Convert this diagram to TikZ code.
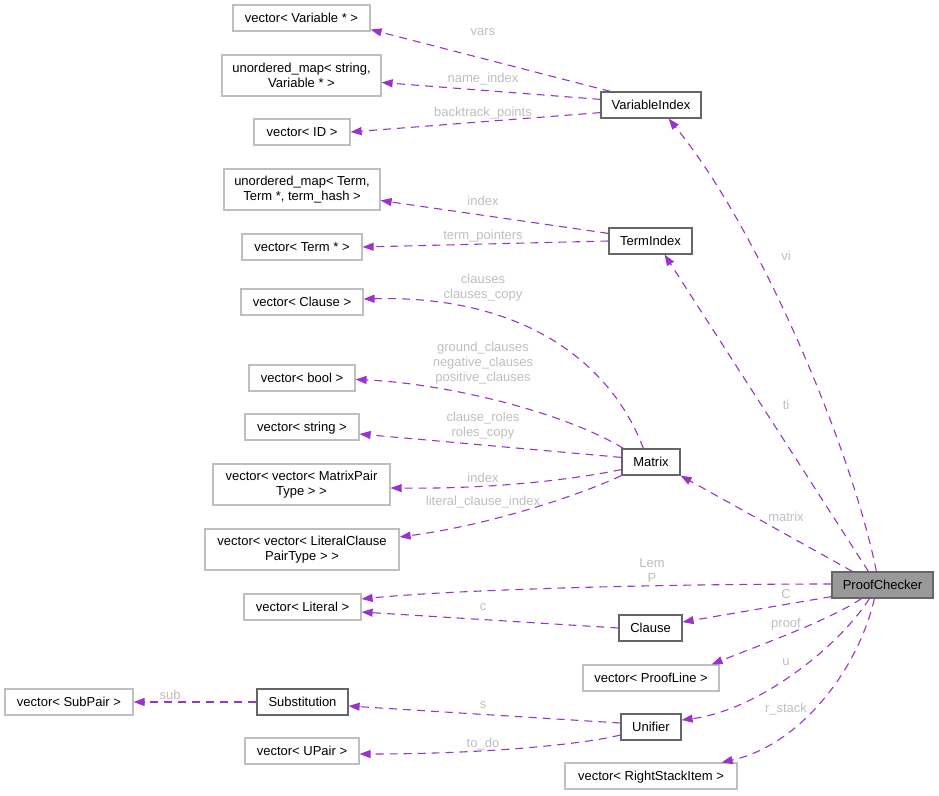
\documentclass[tikz,border=0pt]{standalone}
\usepackage{fontspec}
\setmainfont{Liberation Sans}
\usetikzlibrary{arrows.meta}
\definecolor{usecol}{HTML}{9A32CD}
\definecolor{lblgrey}{HTML}{BEBEBE}
\definecolor{klassgrey}{HTML}{666666}
\definecolor{tmplgrey}{HTML}{BFBFBF}
\definecolor{pcfill}{HTML}{999999}
\newcommand{\dgfont}{\fontsize{13pt}{15pt}\selectfont}
\tikzset{
  member/.style={draw=tmplgrey, line width=1.2pt, fill=white, font=\dgfont,
    minimum height=26pt, inner xsep=2pt, inner ysep=1pt, align=center,
    text height=9.3pt, text depth=0pt},
  klass/.style={member, draw=klassgrey},
  twoline/.style={minimum height=41pt, text height=, text depth=},
  use/.style={draw=usecol, line width=1.1pt, dash pattern=on 8pt off 6pt,
    -{Triangle[length=11pt,width=8pt]}},
  lbl/.style={text=lblgrey, font=\dgfont, inner sep=0pt, align=center}
}
\begin{document}
\begin{tikzpicture}[x=1pt, y=-1pt]
  \useasboundingbox (0,0) rectangle (939,795);

  % left column
  \node[member, minimum width=137pt] (vvar) at (301.5,18) {vector< Variable * >};
  \node[member, twoline, minimum width=159pt] (umstr) at (301.5,75.5) {unordered\_map< string,\\Variable * >};
  \node[member, minimum width=96pt] (vid) at (302,132) {vector< ID >};
  \node[member, twoline, minimum width=156pt] (umterm) at (302,189.5) {unordered\_map< Term,\\Term *, term\_hash >};
  \node[member, minimum width=120pt] (vterm) at (302,247) {vector< Term * >};
  \node[member, minimum width=122pt] (vclause) at (302,302) {vector< Clause >};
  \node[member, minimum width=106pt] (vbool) at (302,378) {vector< bool >};
  \node[member, minimum width=114pt] (vstring) at (302,427) {vector< string >};
  \node[member, twoline, minimum width=177pt] (vvmp) at (301.5,484.5) {vector< vector< MatrixPair\\Type > >};
  \node[member, twoline, minimum width=194pt] (vvlc) at (302,549.5) {vector< vector< LiteralClause\\PairType > >};
  \node[member, minimum width=117pt] (vlit) at (302.5,607) {vector< Literal >};
  \node[member, minimum width=128pt] (vsub) at (69,702) {vector< SubPair >};
  \node[klass, minimum width=91pt] (subst) at (302.5,702) {Substitution};
  \node[member, minimum width=114pt] (vupair) at (302,751) {vector< UPair >};

  % middle column
  \node[klass, minimum width=100pt] (vi) at (651,105) {VariableIndex};
  \node[klass, minimum width=83pt] (ti) at (650.5,241) {TermIndex};
  \node[klass, minimum width=58pt] (matrix) at (651,462) {Matrix};
  \node[klass, minimum width=63pt] (clause) at (650.5,628) {Clause};
  \node[member, minimum width=136pt] (vpl) at (651,678) {vector< ProofLine >};
  \node[klass, minimum width=60pt] (unifier) at (651,727) {Unifier};
  \node[member, minimum width=172pt] (vrsi) at (651,776) {vector< RightStackItem >};

  \node[klass, fill=pcfill, minimum width=101pt] (pc) at (882.5,585) {ProofChecker};

  % VariableIndex
  \draw[use] ([xshift=10pt]vi.north west) -- ([yshift=2pt]vvar.south east);
  \draw[use] ([yshift=-8pt]vi.north west) -- ([yshift=-7pt]umstr.east);
  \draw[use] ([yshift=6pt]vi.south west) -- (vid.east);
  % TermIndex
  \draw[use] ([yshift=-6pt]ti.north west) -- ([yshift=-11pt]umterm.east);
  \draw[use] (ti.west) -- (vterm.east);
  % Matrix
  \draw[use] ([xshift=22pt]matrix.north west) .. controls (610,360) and (520,295) .. ([yshift=3pt]vclause.east);
  \draw[use] ([xshift=2pt]matrix.north west) .. controls (560,410) and (440,383) .. ([yshift=-1.5pt]vbool.east);
  \draw[use] ([yshift=-9pt]matrix.north west) -- ([yshift=-7pt]vstring.east);
  \draw[use] ([yshift=6pt]matrix.south west) .. controls (560,482) and (480,489) .. ([yshift=-3.5pt]vvmp.east);
  \draw[use] (matrix.south west) .. controls (580,495) and (490,525) .. ([yshift=12.5pt]vvlc.east);
  % ProofChecker
  \draw[use] ([xshift=21pt]pc.north west) -- (matrix.south east);
  \draw[use] ([xshift=37pt]pc.north west) -- ([xshift=-28pt]ti.south east);
  \draw[use] ([xshift=45pt]pc.north west) .. controls (852,450) and (760,230) .. ([xshift=-33pt]vi.south east);
  \draw[use] ([yshift=1pt]pc.west) .. controls (650,584) and (450,590) .. ([yshift=8pt]vlit.east);
  \draw[use] ([yshift=2pt]pc.south west) -- ([yshift=6pt]clause.east);
  \draw[use] ([xshift=30pt]pc.south west) .. controls (830,620) and (760,645) .. ([xshift=-8pt]vpl.north east);
  \draw[use] ([xshift=38pt]pc.south west) .. controls (840,645) and (760,710) .. ([yshift=7pt]unifier.east);
  \draw[use] ([xshift=43pt]pc.south west) .. controls (858,670) and (800,745) .. ([xshift=-16pt]vrsi.north east);
  % Clause, Substitution, Unifier
  \draw[use] (clause.west) -- ([yshift=-5pt]vlit.east);
  \draw[use] (subst.west) -- (vsub.east);
  \draw[use] ([yshift=4pt]unifier.west) -- ([yshift=-4pt]subst.east);
  \draw[use] ([yshift=-8pt]unifier.west) .. controls (580,745) and (480,754) .. ([yshift=-3pt]vupair.east);

  % edge labels
  \node[lbl] (l-vars) at (483,32) {vars};
  \node[lbl] (l-nameidx) at (483,79) {name\_index};
  \node[lbl] (l-btp) at (483,113) {backtrack\_points};
  \node[lbl] (l-tidx) at (483,200.5) {index};
  \node[lbl] (l-tptr) at (483,236.5) {term\_pointers};
  \node[lbl] (l-clauses) at (483,288) {clauses\\clauses\_copy};
  \node[lbl] (l-bools) at (483,363) {ground\_clauses\\negative\_clauses\\positive\_clauses};
  \node[lbl] (l-roles) at (483,425.5) {clause\_roles\\roles\_copy};
  \node[lbl] (l-midx) at (483,477.5) {index};
  \node[lbl] (l-lci) at (483,502.5) {literal\_clause\_index};
  \node[lbl] (l-lem) at (652,570.5) {Lem\\P};
  \node[lbl] (l-c) at (483,607) {c};
  \node[lbl] (l-vi) at (786,256) {vi};
  \node[lbl] (l-ti) at (786,405) {ti};
  \node[lbl] (l-matrix) at (786,516.5) {matrix};
  \node[lbl] (l-cc) at (786,594) {C};
  \node[lbl] (l-proof) at (786,624.5) {proof};
  \node[lbl] (l-u) at (786,662) {u};
  \node[lbl] (l-rstack) at (786,709.5) {r\_stack};
  \node[lbl] (l-sub) at (170,694.5) {sub};
  \node[lbl] (l-s) at (483,705) {s};
  \node[lbl] (l-todo) at (483,744) {to\_do};
\end{tikzpicture}
\end{document}
